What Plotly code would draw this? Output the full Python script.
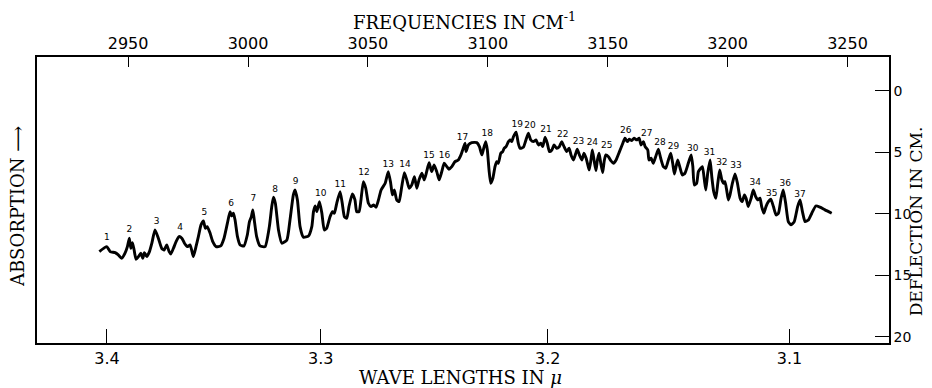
import plotly.graph_objects as go

# Spectrum: frequency (cm^-1) vs galvanometer deflection (cm)
freq = [2938.0, 2941.1, 2942.5, 2944.6, 2945.9, 2947.3, 2948.7, 2949.7, 2950.5, 2951.1, 2951.8, 2952.5,
        2953.3, 2954.3, 2955.3, 2956.1, 2956.8, 2957.8, 2958.9, 2959.9, 2961.2, 2962.6, 2964.0, 2965.0,
        2966.1, 2967.1, 2967.8, 2968.9, 2970.0, 2971.2, 2972.4, 2973.5, 2974.7, 2975.8, 2976.5, 2977.2,
        2978.3, 2979.3, 2980.4, 2981.4, 2982.2, 2983.0, 2984.2, 2985.3, 2986.7, 2988.6, 2990.0, 2991.4,
        2992.5, 2993.2, 2993.9, 2994.6, 2995.6, 2996.7, 2998.3, 2999.7, 3000.6, 3001.4, 3002.0, 3002.6,
        3003.6, 3005.0, 3007.1, 3008.9, 3009.9, 3010.6, 3011.4, 3012.7,
        3014.1, 3016.2, 3017.5, 3018.9, 3019.6, 3020.6, 3021.7, 3023.1, 3025.2, 3026.6, 3027.3, 3028.0,
        3028.7, 3029.8, 3030.8, 3031.8, 3032.8, 3034.2, 3035.2, 3036.0, 3037.0, 3038.4, 3039.3, 3040.2,
        3041.2, 3042.1, 3043.5, 3044.6, 3045.3, 3046.3, 3047.1, 3048.1, 3049.1, 3050.2, 3051.3, 3052.4,
        3053.4, 3054.4, 3055.5, 3057.2, 3058.5, 3059.5, 3060.2, 3061.0, 3062.0, 3063.0, 3064.1, 3065.2,
        3066.2, 3067.2, 3068.3, 3069.4, 3070.4, 3071.3, 3072.5, 3073.5, 3074.5, 3075.5, 3076.6, 3077.6,
        3078.7, 3079.7, 3080.8, 3081.8, 3082.9, 3083.8, 3085.0, 3086.3, 3087.7, 3088.8,
        3089.5, 3090.5, 3090.9, 3091.9, 3093.3, 3095.4, 3096.5, 3097.5, 3098.1, 3099.1, 3099.8, 3100.5,
        3101.2, 3102.1, 3103.0, 3103.7, 3104.4, 3105.4, 3106.2, 3106.8, 3107.6, 3108.6, 3109.3, 3110.0,
        3110.7, 3111.8, 3112.7, 3113.4, 3114.8, 3115.9, 3116.9, 3117.9, 3119.0, 3120.1, 3121.1, 3122.1,
        3122.9, 3123.9, 3124.8, 3125.7, 3126.7, 3127.6, 3128.7, 3129.8, 3130.8, 3131.8, 3132.9, 3133.9,
        3134.7, 3135.7, 3136.7, 3137.3, 3138.2, 3139.2, 3140.1, 3141.0, 3141.7, 3142.3, 3143.1, 3143.6,
        3144.4, 3145.1, 3145.7, 3146.4, 3147.1, 3147.9, 3148.5, 3149.2, 3150.3, 3151.3, 3152.4, 3153.5,
        3154.9, 3156.3, 3157.2, 3158.2, 3159.0, 3160.0, 3161.0, 3162.1, 3163.1, 3163.9, 3164.9, 3165.6,
        3166.7, 3167.2, 3168.1, 3169.0, 3170.0, 3171.1, 3172.1, 3173.2, 3174.2, 3175.3, 3176.3, 3177.1,
        3177.8, 3178.5, 3179.2, 3180.2, 3181.1, 3182.2, 3183.6, 3184.8, 3185.5, 3186.1, 3187.1, 3187.8,
        3188.8, 3189.5, 3190.3, 3190.9, 3191.7, 3192.7, 3193.4, 3194.2, 3195.1, 3195.9, 3196.7, 3197.6,
        3198.4, 3198.9, 3199.6, 3200.3, 3201.0, 3202.0, 3203.1, 3204.1, 3205.2, 3206.1, 3207.0, 3207.7,
        3208.6, 3209.8, 3210.7, 3211.7, 3212.6, 3213.5, 3214.2, 3215.1, 3216.0, 3217.0, 3218.0, 3219.1,
        3220.2, 3221.2, 3222.3, 3223.2, 3224.2, 3225.3, 3226.5, 3227.8, 3229.2, 3230.2, 3231.2, 3232.3,
        3233.7, 3235.1, 3236.8, 3238.5, 3240.6, 3243.4]
deflection = [13.06, 12.66, 13.06, 13.14, 13.33, 13.60, 13.19, 12.66, 11.97, 12.79, 12.33, 12.93,
              13.68, 13.47, 13.19, 13.60, 13.14, 13.47, 13.06, 12.38, 11.30, 11.97, 12.79, 12.93,
              12.52, 13.06, 13.25, 12.79, 12.25, 11.84, 11.97, 12.38, 12.66, 12.52, 12.93, 13.47,
              12.66, 11.84, 10.89, 10.57, 11.16, 11.03, 11.57, 12.25, 12.66, 12.60, 11.97, 10.75,
              9.81, 10.16, 9.94, 10.49, 11.84, 12.52, 12.60, 11.71, 10.62, 10.22, 9.67, 10.49,
              11.84, 12.60, 12.66, 11.03, 9.40, 8.64, 9.13, 11.30,
              12.38, 12.11, 10.49, 8.45, 8.05, 8.86, 11.03, 11.89, 11.79, 11.03, 9.81, 9.35,
              9.81, 9.00, 9.94, 11.30, 11.16, 10.22, 9.81, 9.94, 9.13, 8.19, 9.13, 10.22,
              10.35, 9.40, 8.37, 8.86, 9.81, 9.81, 8.86, 7.37, 7.91, 9.13, 9.40, 9.27,
              9.45, 8.86, 8.05, 7.50, 6.56, 7.50, 8.45, 8.05, 8.86, 9.00, 7.78, 6.64,
              7.23, 7.91, 7.64, 6.97, 7.91, 7.23, 6.69, 7.23, 6.56, 5.83, 6.56, 6.01,
              6.56, 7.23, 6.56, 5.88, 6.15, 6.36, 6.15, 5.75, 5.61, 5.20,
              4.80, 4.25, 4.93, 4.39, 4.20, 4.20, 4.53, 5.20, 4.80, 4.12, 4.80, 6.42,
              7.50, 7.10, 6.15, 5.75, 5.88, 5.06, 4.93, 4.66, 4.53, 4.12, 3.98, 4.12,
              3.71, 3.36, 4.25, 4.66, 4.58, 3.98, 3.44, 3.98, 4.12, 3.98, 4.39, 4.25,
              4.53, 3.76, 4.25, 4.93, 4.80, 4.39, 4.66, 4.53, 4.12, 4.53, 4.93, 4.66,
              5.20, 5.61, 5.06, 4.74, 5.20, 5.61, 5.06, 5.47, 6.01, 6.42, 5.47, 4.80,
              5.75, 6.48, 5.61, 5.06, 5.88, 6.64, 5.75, 5.20, 5.34, 5.67, 5.88, 5.61,
              4.93, 4.25, 3.84, 4.12, 3.92, 4.04, 3.84, 3.98, 3.84, 4.39, 4.12, 4.53,
              4.80, 5.61, 5.47, 5.88, 5.34, 4.74, 5.47, 6.15, 6.28, 5.61, 5.06, 5.88,
              6.75, 6.15, 5.61, 6.28, 6.83, 6.69, 5.88, 5.20, 6.15, 7.64, 7.50, 6.56,
              6.28, 6.15, 7.23, 8.05, 6.69, 5.61, 6.97, 8.19, 8.72, 7.50, 6.42, 7.23,
              7.50, 7.37, 8.05, 8.86, 8.45, 7.50, 6.75, 7.50, 8.72, 9.00, 8.45, 8.72,
              9.40, 8.72, 8.05, 8.59, 8.86, 8.72, 9.40, 9.94, 9.40, 9.00, 8.80, 9.40,
              10.08, 9.94, 8.72, 8.05, 9.13, 10.62, 10.89, 10.62, 9.40, 8.86, 9.81, 10.62,
              10.49, 9.94, 9.35, 9.45, 9.67, 9.94]

# Band numbers and their label positions
band_numbers = [str(i) for i in range(1, 38)]
band_freq = [2941.1, 2950.5, 2961.9, 2971.7, 2981.8, 2992.9, 3002.2, 3011.3, 3019.9, 3030.3,
             3038.5, 3048.4, 3058.5, 3065.5, 3075.5, 3081.9, 3089.4, 3099.8, 3112.3, 3117.6,
             3124.3, 3131.2, 3137.8, 3143.6, 3149.6, 3157.5, 3166.3, 3171.8, 3177.4, 3185.5,
             3192.4, 3197.6, 3203.5, 3211.5, 3218.4, 3224.0, 3230.2]
band_defl = [11.97, 11.30, 10.62, 11.16, 9.94, 9.21, 8.80, 8.05, 7.42, 8.32,
             7.64, 6.61, 5.96, 6.01, 5.26, 5.28, 3.80, 3.44, 2.76, 2.84,
             3.17, 3.52, 4.12, 4.20, 4.47, 3.23, 3.44, 4.20, 4.53, 4.66,
             5.02, 5.83, 6.10, 7.45, 8.37, 7.56, 8.40]

# Axis ticks
freq_ticks = [2950, 3000, 3050, 3100, 3150, 3200, 3250]
wavelength_ticks = [3.4, 3.3, 3.2, 3.1]
deflection_ticks = [0, 5, 10, 15, 20]

x_range = [2912.0, 3267.3]
y_range = [20.49, -2.76]

fig = go.Figure()
fig.add_trace(go.Scatter(x=freq, y=deflection, mode="lines",
                         line=dict(color="black", width=2.9, shape="spline", smoothing=0.5),
                         hoverinfo="skip", showlegend=False))
fig.add_trace(go.Scatter(x=band_freq, y=band_defl, mode="text", text=band_numbers,
                         textfont=dict(family="DejaVu Sans", size=9, color="black"),
                         textposition="middle center", showlegend=False, hoverinfo="skip"))
# invisible trace to anchor the top frequency axis
fig.add_trace(go.Scatter(x=[freq_ticks[0]], y=[0], xaxis="x2", mode="markers",
                         marker=dict(opacity=0), showlegend=False, hoverinfo="skip"))

tickfont = dict(family="DejaVu Sans", size=16, color="black")
yfont = dict(family="DejaVu Sans", size=14, color="black")
titlefont = dict(family="DejaVu Serif", size=18, color="black")
fig.update_layout(
    # the page adds an 8px body margin, so the figure is sized to fit the window
    width=924, height=380,
    margin=dict(l=29, r=43, t=49, b=45, autoexpand=False),
    paper_bgcolor="white", plot_bgcolor="white",
    xaxis=dict(range=x_range, tickvals=[10000 / w for w in wavelength_ticks],
               ticktext=[str(w) for w in wavelength_ticks], ticks="inside", ticklen=14,
               tickwidth=1.2, tickcolor="black", showline=True, linecolor="black", linewidth=1.5,
               mirror=True, showgrid=False, zeroline=False, tickfont=tickfont, automargin=False),
    xaxis2=dict(range=x_range, overlaying="x", side="top", tickvals=freq_ticks,
                ticks="inside", ticklen=10, tickwidth=1.2, tickcolor="black",
                showline=True, linecolor="black", linewidth=1.5, showgrid=False,
                zeroline=False, tickfont=tickfont, automargin=False),
    yaxis=dict(range=y_range, side="right", tickvals=deflection_ticks, ticks="inside",
               ticklen=14, tickwidth=1.2, tickcolor="black", showline=True, linecolor="black",
               linewidth=1.5, mirror=True, showgrid=False, zeroline=False, tickfont=yfont,
               automargin=False),
    annotations=[
        dict(text="FREQUENCIES IN CM<sup>-1</sup>", xref="paper", yref="paper", x=0.502, y=1.125,
             xanchor="center", yanchor="middle", showarrow=False, font=titlefont),
        dict(text="WAVE LENGTHS IN <i>μ</i>", xref="paper", yref="paper", x=0.497, y=-0.119,
             xanchor="center", yanchor="middle", showarrow=False, font=titlefont),
        dict(text="DEFLECTION IN CM.", xref="paper", yref="paper", x=1.031, y=0.427,
             xanchor="center", yanchor="middle", textangle=-90, showarrow=False,
             font=dict(family="DejaVu Serif", size=17, color="black")),
        dict(text="ABSORPTION ⟶", xref="paper", yref="paper", x=-0.022, y=0.476,
             xanchor="center", yanchor="middle", textangle=-90, showarrow=False, font=titlefont),
    ],
)

fig.write_html("out.html")
